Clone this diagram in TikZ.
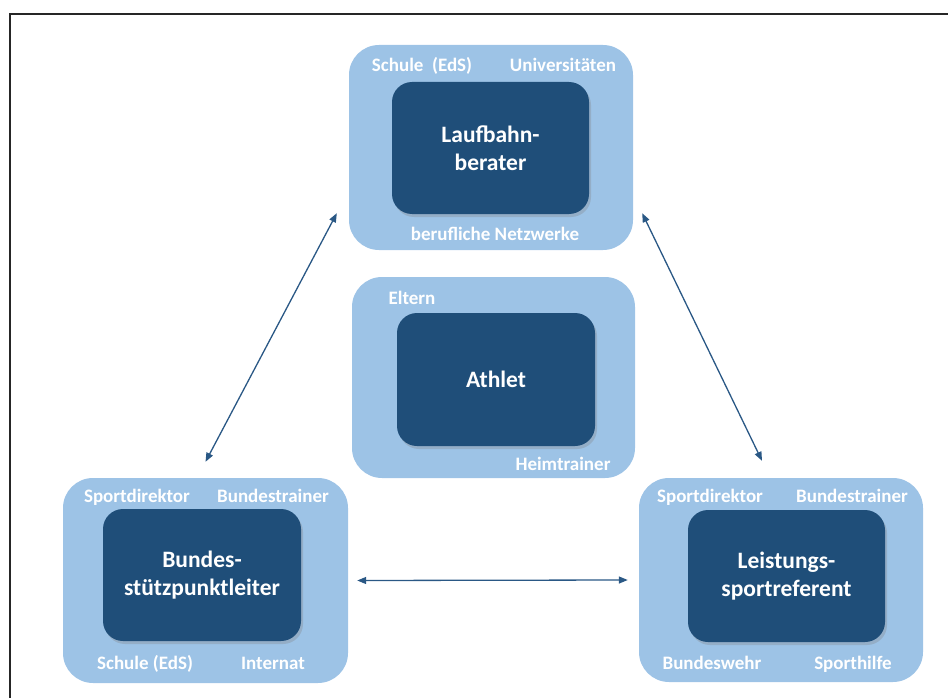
\documentclass[tikz,border=0pt]{standalone}
\usepackage{fontspec}
\setmainfont{Carlito}
\usetikzlibrary{arrows.meta,shadows}

\definecolor{hellblau}{HTML}{9DC3E6}
\definecolor{dunkelblau}{HTML}{1F4E79}
\definecolor{pfeilblau}{HTML}{2A5885}

\begin{document}
\begin{tikzpicture}[x=1pt,y=-1pt,
    outerbox/.style={fill=hellblau, rounded corners=30pt, inner sep=0pt},
    innerbox/.style={fill=dunkelblau, rounded corners=20pt, inner sep=0pt,
        drop shadow={shadow xshift=2pt, shadow yshift=-3pt, opacity=0.3},
        text=white, font=\fontsize{23.5}{28}\selectfont\bfseries, align=center},
    lbl/.style={text=white, font=\fontsize{19}{22}\selectfont\bfseries,
        inner sep=0pt, text height=13pt, text depth=4pt},
    link/.style={draw=pfeilblau, line width=1.3pt,
        {Triangle[length=9pt,width=7pt]}-{Triangle[length=9pt,width=7pt]}}]
            \useasboundingbox (0,0) rectangle (948,698);
            % frame (only top and left edge visible)
            \draw[line width=2pt, black!85] (10,698) -- (10,14) -- (948,14);

            % outer boxes
            \node[outerbox, minimum width=284pt, minimum height=205pt] (laufOut) at (491,147.5) {};
            \node[outerbox, minimum width=283pt, minimum height=201pt] (athOut) at (493.5,377.5) {};
            \node[outerbox, minimum width=285pt, minimum height=205pt] (bundOut) at (205.5,580.5) {};
            \node[outerbox, minimum width=284pt, minimum height=204pt] (leisOut) at (781,580) {};

            % inner boxes
            \node[innerbox, minimum width=197pt, minimum height=132pt] (laufIn) at (490.5,148) {Laufbahn-\\berater};
            \node[innerbox, minimum width=198pt, minimum height=133pt] (athIn) at (496,379.5) {Athlet};
            \node[innerbox, minimum width=198pt, minimum height=132pt] (bundIn) at (202,575) {Bundes-\\stützpunktleiter};
            \node[innerbox, minimum width=197pt, minimum height=132pt] (leisIn) at (786.5,576) {Leistungs-\\sportreferent};

            % labels around the boxes
            \foreach \x/\y/\t [count=\i] in {
                422/67.5/Schule~~(EdS), 563/67.5/Universitäten, 495/235.5/berufliche Netzwerke,
                412/299.5/Eltern, 563/465.5/Heimtrainer,
                137/497.5/Sportdirektor, 273/497.5/Bundestrainer, 145/664.5/Schule (EdS), 273/664.5/Internat,
                710/497.5/Sportdirektor, 852/497.5/Bundestrainer, 712/664.5/Bundeswehr, 853/664.5/Sporthilfe} {
                \node[lbl] (lbl\i) at (\x,\y) {\t};
            }

            % connections
            \draw[link] ([shift={(0,-16)}]bundOut.north) -- ([shift={(-12,-37)}]laufOut.south west);
            \draw[link] ([shift={(9,-37)}]laufOut.south east) -- ([shift={(-19,-17)}]leisOut.north);
            \draw[link] ([xshift=9pt]bundOut.east) -- ([xshift=-11pt]leisOut.west);
        \end{tikzpicture}
\end{document}
